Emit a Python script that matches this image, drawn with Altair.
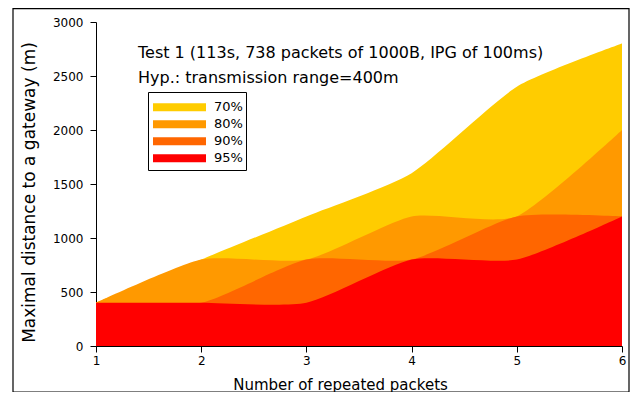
import altair as alt
import pandas as pd

packets = [1, 2, 3, 4, 5, 6]
levels = ["70%", "80%", "90%", "95%"]
colors = ["#ffcc00", "#ff9900", "#ff6600", "#ff0000"]
dist_70 = [400, 800, 1200, 1600, 2400, 2800]
dist_80 = [400, 800, 800, 1200, 1200, 2000]
dist_90 = [400, 400, 800, 800, 1200, 1200]
dist_95 = [400, 400, 400, 800, 800, 1200]
series = [dist_70, dist_80, dist_90, dist_95]
title_lines = ["Test 1 (113s, 738 packets of 1000B, IPG of 100ms)",
               "Hyp.: transmission range=400m"]
x_ticks = [1, 2, 3, 4, 5, 6]
y_ticks = [0, 500, 1000, 1500, 2000, 2500, 3000]

rows = []
for lvl, vals in zip(levels, series):
    for p, v in zip(packets, vals):
        rows.append({"packets": p, "level": lvl, "distance": v})
df = pd.DataFrame(rows)

FONT = "DejaVu Sans"

x_axis = alt.Axis(values=x_ticks, format="d", title="Number of repeated packets",
                  titleFont=FONT, titleFontSize=15, titleFontWeight="normal",
                  titleColor="black", titleX=244, titleY=43, titleAlign="center",
                  titleBaseline="alphabetic", labelFont=FONT, labelFontSize=12,
                  labelColor="black", labelFlush=False, tickColor="black",
                  domainColor="black", tickSize=6, labelPadding=3, grid=False)
y_axis = alt.Axis(values=y_ticks, format="d", title="Maximal distance to a gateway (m)",
                  titleFont=FONT, titleFontSize=17, titleFontWeight="normal",
                  titleColor="black", titleX=-61.5, titleY=170, titleAlign="center",
                  titleBaseline="alphabetic", labelFont=FONT, labelFontSize=12,
                  labelColor="black", labelFlush=False, tickColor="black",
                  domainColor="black", tickSize=6, labelPadding=7, grid=False)

legend = alt.Legend(title=" ", titleFontSize=1, titlePadding=3,
                    orient="none", legendX=52, legendY=70,
                    strokeColor="black", fillColor="white", padding=3,
                    cornerRadius=0,
                    symbolType="M-1,-0.15H1V0.15H-1Z", symbolSize=2809,
                    symbolStrokeWidth=0, symbolOpacity=1, symbolOffset=2,
                    clipHeight=16.3, rowPadding=0,
                    labelExpr="datum.label + '\u00a0\u00a0'",
                    labelFont=FONT, labelFontSize=13,
                    labelColor="black", labelOffset=8)

color = alt.Color("level:N", scale=alt.Scale(domain=levels, range=colors),
                  legend=legend)

layers = []
for lvl in levels:
    layers.append(
        alt.Chart(df).transform_filter(alt.datum.level == lvl)
        .mark_area(interpolate="cardinal", tension=0.4, opacity=1)
        .encode(
            x=alt.X("packets:Q", scale=alt.Scale(domain=[1, 6], nice=False), axis=x_axis),
            y=alt.Y("distance:Q", scale=alt.Scale(domain=[0, 3000], nice=False),
                    axis=y_axis, stack=None),
            color=color,
        )
    )

one = pd.DataFrame({"k": [0]})
text1 = alt.Chart(one).mark_text(text=title_lines[0], align="left", baseline="alphabetic",
                                 font=FONT, fontSize=16, color="black").encode(
    x=alt.value(42), y=alt.value(36))
text2 = alt.Chart(one).mark_text(text=title_lines[1], align="left", baseline="alphabetic",
                                 font=FONT, fontSize=16, color="black").encode(
    x=alt.value(42), y=alt.value(61))
border = alt.Chart(one).mark_rect(fillOpacity=0, stroke="black", strokeWidth=1.2).encode(
    x=alt.value(-83), x2=alt.value(533), y=alt.value(-13.4), y2=alt.value(370))

chart = alt.layer(*layers, text1, text2, border).properties(
    width=526, height=324,
    autosize=alt.AutoSizeParams(type="none"),
    padding={"left": 88, "top": 14, "right": 8, "bottom": 46},
    background="white",
).configure_view(strokeWidth=0)

chart.save("out.html", embed_options={"renderer": "svg", "actions": False})
